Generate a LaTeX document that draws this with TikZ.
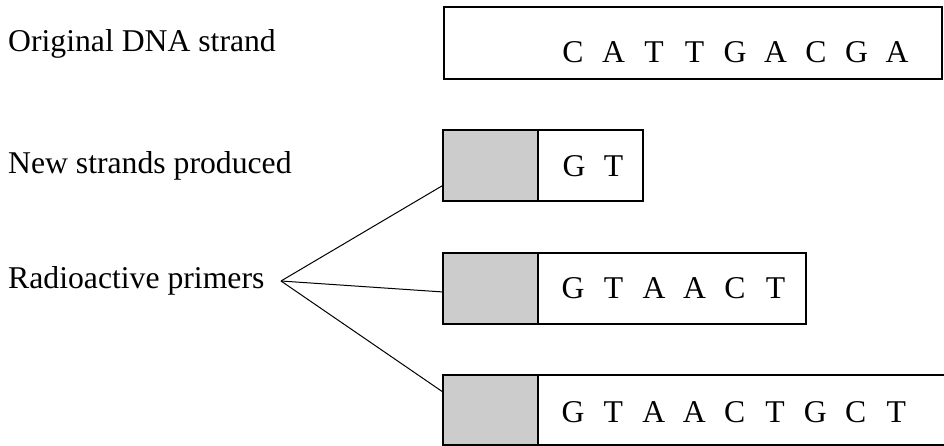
\documentclass[tikz,border=0pt]{standalone}
\usepackage{fontspec}
\setmainfont{Liberation Serif}
\definecolor{primgray}{HTML}{CCCCCC}
\begin{document}
\begin{tikzpicture}[x=1pt,y=-1pt,
  box/.style={draw=black, line width=1.8pt, inner sep=0pt, anchor=north west},
  primer/.style={box, fill=primgray},
  lbl/.style={anchor=base west, inner sep=0pt, font=\fontsize{31.7}{36}\selectfont},
  letter/.style={anchor=base, inner sep=0pt, font=\fontsize{31.7}{36}\selectfont},
  conn/.style={line width=1pt}]
\clip (0,0) rectangle (944,446);
% labels
\node[lbl] (l1) at (8,52) {Original DNA strand};
\node[lbl] (l2) at (8,174) {New strands produced};
\node[lbl] (l3) at (8,288) {Radioactive primers};
\coordinate (apex) at (281,281);
% original strand
\node[box, minimum width=498pt, minimum height=72pt] (orig) at (443,6) {};
\foreach \l [count=\i from 0] in {C,A,T,T,G,A,C,G,A}
  \node[letter] (o\i) at (573+40.5*\i,63) {\l};
% new strand 1
\node[primer, minimum width=95pt, minimum height=71pt] (p2) at (442,129) {};
\node[box, minimum width=105pt, minimum height=71pt] (s2) at (537,129) {};
\foreach \l [count=\i from 0] in {G,T}
  \node[letter] (a\i) at (574+39.5*\i,177) {\l};
% new strand 2
\node[primer, minimum width=95pt, minimum height=71pt] (p3) at (442,252) {};
\node[box, minimum width=268pt, minimum height=71pt] (s3) at (537,252) {};
\foreach \l [count=\i from 0] in {G,T,A,A,C,T}
  \node[letter] (b\i) at (573+40.5*\i,298) {\l};
% new strand 3
\node[primer, minimum width=95pt, minimum height=70pt] (p4) at (442,374) {};
\node[box, minimum width=430pt, minimum height=70pt] (s4) at (537,374) {};
\foreach \l [count=\i from 0] in {G,T,A,A,C,T,G,C,T}
  \node[letter] (c\i) at (573+40.4*\i,422) {\l};
% connectors
\draw[conn] (apex) -- ([yshift=-20.5pt]p2.west);
\draw[conn] (apex) -- ([yshift=-3.5pt]p3.west);
\draw[conn] (apex) -- ([yshift=18.5pt]p4.west);
\end{tikzpicture}
\end{document}
